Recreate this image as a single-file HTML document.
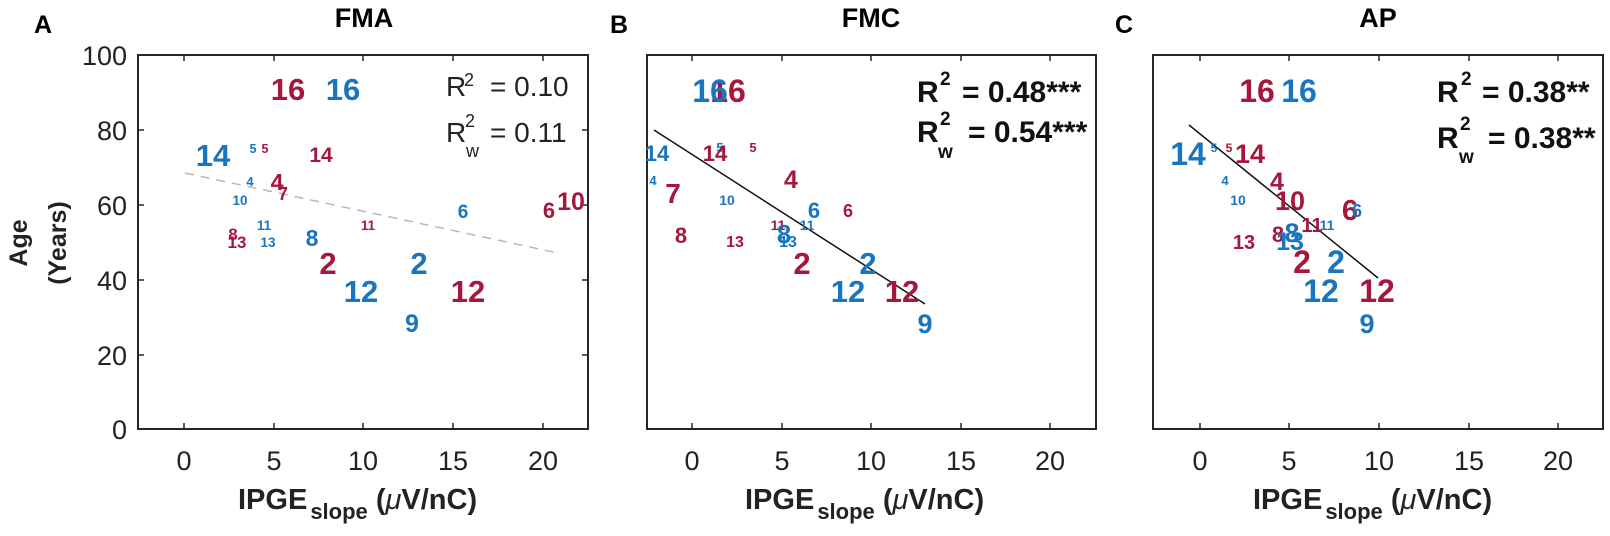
<!DOCTYPE html>
<html><head><meta charset="utf-8"><style>
html,body{margin:0;padding:0;background:#fff;}
svg{display:block;font-family:"Liberation Sans",Arial,sans-serif;}
.b{fill:#1a75bf;font-weight:bold;text-anchor:middle;}
.r{fill:#a6173d;font-weight:bold;text-anchor:middle;}
.tk{font-size:27px;fill:#222;text-anchor:middle;}
.yt{font-size:27px;fill:#222;text-anchor:end;}
.ttl{font-size:27px;font-weight:bold;text-anchor:middle;}
.pl{font-size:25px;font-weight:bold;}
.xl{font-size:29px;font-weight:bold;fill:#222;}
</style></head><body>
<svg width="1610" height="536" viewBox="0 0 1610 536" xmlns="http://www.w3.org/2000/svg">
<!-- Panel A -->
<text x="34" y="33" class="pl">A</text>
<text x="364" y="27" class="ttl">FMA</text>
<rect x="138" y="55" width="450" height="374" fill="none" stroke="#262626" stroke-width="2"/>
<g stroke="#262626" stroke-width="1.5">
<line x1="184" y1="429" x2="184" y2="423"/><line x1="274" y1="429" x2="274" y2="423"/><line x1="363" y1="429" x2="363" y2="423"/><line x1="453" y1="429" x2="453" y2="423"/><line x1="543" y1="429" x2="543" y2="423"/>
<line x1="184" y1="55" x2="184" y2="61"/><line x1="274" y1="55" x2="274" y2="61"/><line x1="363" y1="55" x2="363" y2="61"/><line x1="453" y1="55" x2="453" y2="61"/><line x1="543" y1="55" x2="543" y2="61"/>
<line x1="138" y1="130" x2="144" y2="130"/><line x1="138" y1="205" x2="144" y2="205"/><line x1="138" y1="280" x2="144" y2="280"/><line x1="138" y1="355" x2="144" y2="355"/>
<line x1="588" y1="130" x2="582" y2="130"/><line x1="588" y1="205" x2="582" y2="205"/><line x1="588" y1="280" x2="582" y2="280"/><line x1="588" y1="355" x2="582" y2="355"/>
</g>
<text x="127" y="65" class="yt">100</text><text x="127" y="140" class="yt">80</text><text x="127" y="215" class="yt">60</text><text x="127" y="290" class="yt">40</text><text x="127" y="365" class="yt">20</text><text x="127" y="439" class="yt">0</text>
<text x="184" y="470" class="tk">0</text><text x="274" y="470" class="tk">5</text><text x="363" y="470" class="tk">10</text><text x="453" y="470" class="tk">15</text><text x="543" y="470" class="tk">20</text>
<text class="xl" x="238" y="509">IPGE<tspan font-size="22" dx="3" dy="10">slope</tspan><tspan dy="-10"> (</tspan><tspan font-style="italic" font-weight="normal">μ</tspan>V/nC)</text>
<text transform="translate(27,243) rotate(-90)" text-anchor="middle" font-size="25" font-weight="bold" fill="#222">Age</text>
<text transform="translate(66,243) rotate(-90)" text-anchor="middle" font-size="25" font-weight="bold" fill="#222">(Years)</text>
<line x1="185" y1="173" x2="558" y2="253" stroke="#b8b8b8" stroke-width="1.5" stroke-dasharray="9,7"/>
<g font-size="28" fill="#222">
<text x="446" y="96">R</text><text x="464" y="86" font-size="18">2</text><text x="490" y="96">= 0.10</text>
<text x="446" y="142">R</text><text x="466" y="157" font-size="18">w</text><text x="465" y="127" font-size="18">2</text><text x="490" y="142">= 0.11</text>
</g>
<text x="288" y="100" class="r" font-size="31">16</text>
<text x="343" y="100" class="b" font-size="31">16</text>
<text x="213" y="166" class="b" font-size="31">14</text>
<text x="253" y="153" class="b" font-size="12.5">5</text>
<text x="265" y="153" class="r" font-size="12.5">5</text>
<text x="321" y="162" class="r" font-size="21">14</text>
<text x="250" y="186" class="b" font-size="13">4</text>
<text x="277" y="190" class="r" font-size="23">4</text>
<text x="283" y="200" class="r" font-size="18">7</text>
<text x="240" y="205" class="b" font-size="13.5">10</text>
<text x="463" y="218" class="b" font-size="19">6</text>
<text x="549" y="218" class="r" font-size="22">6</text>
<text x="571" y="210" class="r" font-size="25">10</text>
<text x="264" y="230" class="b" font-size="13.5">11</text>
<text x="368" y="230" class="r" font-size="13.5">11</text>
<text x="233" y="240" class="r" font-size="17">8</text>
<text x="237" y="248" class="r" font-size="17">13</text>
<text x="268" y="247" class="b" font-size="13.5">13</text>
<text x="312" y="246" class="b" font-size="23">8</text>
<text x="328" y="274" class="r" font-size="31">2</text>
<text x="419" y="274" class="b" font-size="31">2</text>
<text x="361" y="302" class="b" font-size="31">12</text>
<text x="468" y="302" class="r" font-size="31">12</text>
<text x="412" y="332" class="b" font-size="25">9</text>

<!-- Panel B -->
<text x="610" y="33" class="pl">B</text>
<text x="871" y="27" class="ttl">FMC</text>
<rect x="647" y="55" width="449" height="374" fill="none" stroke="#262626" stroke-width="2"/>
<g stroke="#262626" stroke-width="1.5">
<line x1="692" y1="429" x2="692" y2="423"/><line x1="782" y1="429" x2="782" y2="423"/><line x1="871" y1="429" x2="871" y2="423"/><line x1="961" y1="429" x2="961" y2="423"/><line x1="1050" y1="429" x2="1050" y2="423"/>
<line x1="692" y1="55" x2="692" y2="61"/><line x1="782" y1="55" x2="782" y2="61"/><line x1="871" y1="55" x2="871" y2="61"/><line x1="961" y1="55" x2="961" y2="61"/><line x1="1050" y1="55" x2="1050" y2="61"/>
</g>
<text x="692" y="470" class="tk">0</text><text x="782" y="470" class="tk">5</text><text x="871" y="470" class="tk">10</text><text x="961" y="470" class="tk">15</text><text x="1050" y="470" class="tk">20</text>
<text class="xl" x="745" y="509">IPGE<tspan font-size="22" dx="3" dy="10">slope</tspan><tspan dy="-10"> (</tspan><tspan font-style="italic" font-weight="normal">μ</tspan>V/nC)</text>
<line x1="654" y1="130" x2="925" y2="304" stroke="#111" stroke-width="1.5"/>
<g font-size="30" fill="#111" font-weight="bold">
<text x="917" y="102">R</text><text x="940" y="85" font-size="19">2</text><text x="962" y="102">= 0.48***</text>
<text x="917" y="142">R</text><text x="938" y="158" font-size="19">w</text><text x="940" y="125" font-size="19">2</text><text x="968" y="142">= 0.54***</text>
</g>
<text x="728" y="102" class="r" font-size="32">16</text>
<text x="710" y="102" class="b" font-size="32">16</text>
<text x="657" y="161" class="b" font-size="22">14</text>
<text x="720" y="152" class="b" font-size="13">5</text>
<text x="715" y="161" class="r" font-size="22">14</text>
<text x="753" y="152" class="r" font-size="13">5</text>
<text x="653" y="185" class="b" font-size="13">4</text>
<text x="673" y="203" class="r" font-size="28">7</text>
<text x="791" y="188" class="r" font-size="25">4</text>
<text x="727" y="205" class="b" font-size="14">10</text>
<text x="814" y="218" class="b" font-size="22">6</text>
<text x="848" y="217" class="r" font-size="18">6</text>
<text x="778" y="230" class="r" font-size="14">11</text>
<text x="807" y="230" class="b" font-size="14">11</text>
<text x="681" y="243" class="r" font-size="22">8</text>
<text x="735" y="247" class="r" font-size="16">13</text>
<text x="788" y="247" class="b" font-size="16">13</text>
<text x="784" y="243" class="b" font-size="26">8</text>
<text x="802" y="274" class="r" font-size="31">2</text>
<text x="868" y="274" class="b" font-size="31">2</text>
<text x="848" y="302" class="b" font-size="31">12</text>
<text x="902" y="302" class="r" font-size="31">12</text>
<text x="925" y="333" class="b" font-size="27">9</text>

<!-- Panel C -->
<text x="1115" y="33" class="pl">C</text>
<text x="1378" y="27" class="ttl">AP</text>
<rect x="1153" y="55" width="450" height="374" fill="none" stroke="#262626" stroke-width="2"/>
<g stroke="#262626" stroke-width="1.5">
<line x1="1200" y1="429" x2="1200" y2="423"/><line x1="1289" y1="429" x2="1289" y2="423"/><line x1="1379" y1="429" x2="1379" y2="423"/><line x1="1469" y1="429" x2="1469" y2="423"/><line x1="1558" y1="429" x2="1558" y2="423"/>
<line x1="1200" y1="55" x2="1200" y2="61"/><line x1="1289" y1="55" x2="1289" y2="61"/><line x1="1379" y1="55" x2="1379" y2="61"/><line x1="1469" y1="55" x2="1469" y2="61"/><line x1="1558" y1="55" x2="1558" y2="61"/>
</g>
<text x="1200" y="470" class="tk">0</text><text x="1289" y="470" class="tk">5</text><text x="1379" y="470" class="tk">10</text><text x="1469" y="470" class="tk">15</text><text x="1558" y="470" class="tk">20</text>
<text class="xl" x="1253" y="509">IPGE<tspan font-size="22" dx="3" dy="10">slope</tspan><tspan dy="-10"> (</tspan><tspan font-style="italic" font-weight="normal">μ</tspan>V/nC)</text>
<line x1="1189" y1="125" x2="1378" y2="278" stroke="#111" stroke-width="1.5"/>
<g font-size="30" fill="#111" font-weight="bold">
<text x="1437" y="102">R</text><text x="1461" y="85" font-size="19">2</text><text x="1482" y="102">= 0.38**</text>
<text x="1437" y="148">R</text><text x="1459" y="163" font-size="19">w</text><text x="1460" y="130" font-size="19">2</text><text x="1488" y="148">= 0.38**</text>
</g>
<text x="1257" y="102" class="r" font-size="32">16</text>
<text x="1299" y="102" class="b" font-size="32">16</text>
<text x="1188" y="165" class="b" font-size="32">14</text>
<text x="1214" y="152" class="b" font-size="12">5</text>
<text x="1229" y="152" class="r" font-size="12">5</text>
<text x="1250" y="163" class="r" font-size="27">14</text>
<text x="1225" y="185" class="b" font-size="13">4</text>
<text x="1238" y="205" class="b" font-size="14">10</text>
<text x="1277" y="190" class="r" font-size="25">4</text>
<text x="1290" y="210" class="r" font-size="27">10</text>
<text x="1350" y="220" class="r" font-size="29">6</text>
<text x="1357" y="217" class="b" font-size="18">6</text>
<text x="1312" y="232" class="r" font-size="20">11</text>
<text x="1327" y="230" class="b" font-size="14">11</text>
<text x="1244" y="249" class="r" font-size="20">13</text>
<text x="1278" y="242" class="r" font-size="22">8</text>
<text x="1290" y="250" class="b" font-size="25">13</text>
<text x="1292" y="242" class="b" font-size="27">8</text>
<text x="1302" y="273" class="r" font-size="32">2</text>
<text x="1336" y="273" class="b" font-size="32">2</text>
<text x="1321" y="302" class="b" font-size="32">12</text>
<text x="1377" y="302" class="r" font-size="32">12</text>
<text x="1367" y="333" class="b" font-size="27">9</text>
</svg>
</body></html>
